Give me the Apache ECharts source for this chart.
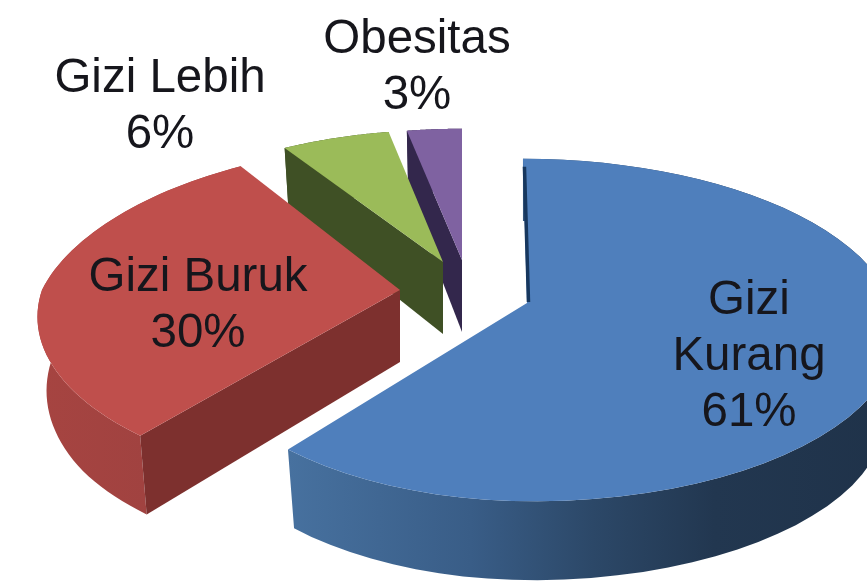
<!DOCTYPE html>
<html>
<head>
<meta charset="utf-8">
<style>
  html, body { margin: 0; padding: 0; background: #fff; }
  #chart { width: 867px; height: 581px; }
</style>
<script src="https://cdn.jsdelivr.net/npm/echarts@6/dist/echarts.min.js"></script>
</head>
<body>
<div id="chart"></div>
<script>
var categories = ['Gizi\nKurang', 'Gizi Buruk', 'Gizi Lebih', 'Obesitas'];
var percents = [61, 30, 6, 3];

// look of each slice, same order as categories
var slices = [
  { ax: 527, ay: 303, rx: 365, rxLeft: 335, ry: 167, shear: 0.028, backPinch: 0, lx: 749, ly: 357,
    top: '#4f7fbc', wall: null, lip: '#17375e',
    rim: [[0, '#47719f'], [0.3, '#395d87'], [0.5, '#2c4868'], [0.7, '#223750'], [1, '#1f3249']] },
  { ax: 400, ay: 290, rx: 358, rxLeft: 358, ry: 166, shear: 0, backPinch: 0.07, lx: 198, ly: 306,
    top: '#bf4f4c', wall: '#7d302e',
    rim: [[0, '#a64441'], [0.6, '#a04240'], [1, '#96403d']] },
  { ax: 443, ay: 262, rx: 335, rxLeft: 335, ry: 153, shear: 0, backPinch: 0, lx: 160, ly: 107,
    top: '#9bbb59', wall: '#3f5025', rim: [[0, '#3f5025'], [1, '#3f5025']] },
  { ax: 462, ay: 260, rx: 340, rxLeft: 340, ry: 152, shear: 0, backPinch: 0, lx: 417, ly: 68,
    top: '#7f62a1', wall: '#33274c', rim: [[0, '#33274c'], [1, '#33274c']] }
];

var tilt = 0.158;   // perspective of the pie plane
var depth = 72;     // thickness at the middle of the pie
var arcSteps = 60;
var textFont = '47.5px "Liberation Sans", Arial, sans-serif';

var total = percents.reduce(function (a, b) { return a + b; }, 0);

function startOf(i) {
  var sum = 0;
  for (var k = 0; k < i; k++) sum += percents[k];
  return sum / total * Math.PI * 2;
}

// theta clockwise from 12 o'clock, h = 0 on the top face, 1 on the bottom
function project(sl, theta, h) {
  var u = Math.sin(theta), v = -Math.cos(theta);
  var s = 1 / (1 - tilt * v);
  var rx = u < 0 ? sl.rxLeft : sl.rx;
  if (v < 0) rx *= 1 + sl.backPinch * v;
  var dx = rx * u * s * (1 - 0.025 * h);
  var dy = sl.ry * v * s;
  return [sl.ax + dx + sl.shear * dy, sl.ay + dy + h * depth * (1 + Math.min(s - 1, 0.095))];
}

function arc(sl, a0, a1, h) {
  var pts = [];
  for (var n = 0; n <= arcSteps; n++) {
    pts.push(project(sl, a0 + (a1 - a0) * n / arcSteps, h));
  }
  return pts;
}

function renderSlice(params, api) {
  var i = api.value(0);
  var sl = slices[i];
  var a0 = startOf(i);
  var a1 = a0 + api.value(1) / total * Math.PI * 2;
  var apex = [sl.ax, sl.ay];
  var apexLow = [sl.ax, sl.ay + depth];
  var topArc = arc(sl, a0, a1, 0);
  var children = [];

  // outer rim
  children.push({
    type: 'polygon',
    shape: { points: topArc.concat(arc(sl, a1, a0, 1)) },
    style: {
      fill: {
        type: 'linear', x: 0, y: 0, x2: 1, y2: 0,
        colorStops: sl.rim.map(function (c) { return { offset: c[0], color: c[1] }; })
      }
    }
  });

  // cut face on the start edge, the blue one faces away
  if (sl.wall) {
    children.push({
      type: 'polygon',
      shape: { points: [apex, project(sl, a0, 0), project(sl, a0, 1), apexLow] },
      style: { fill: sl.wall }
    });
  }

  children.push({
    type: 'polygon',
    shape: { points: [apex].concat(topArc) },
    style: { fill: sl.top }
  });

  // thin dark strip along the blue slice's upright edge
  if (sl.lip) {
    children.push({
      type: 'line',
      shape: { x1: topArc[0][0] + 1.5, y1: topArc[0][1] + 8, x2: apex[0] + 1.5, y2: apex[1] - 1 },
      style: { stroke: sl.lip, lineWidth: 3.5 }
    });
  }

  children.push({
    type: 'text',
    style: {
      text: categories[i] + '\n' + percents[i] + '%',
      x: sl.lx, y: sl.ly,
      align: 'center', verticalAlign: 'middle',
      font: textFont, lineHeight: 56,
      fill: '#16161c'
    }
  });

  return { type: 'group', children: children };
}

// back slices first so the front ones cover them
var drawOrder = [3, 2, 1, 0];

var myChart = echarts.init(document.getElementById('chart'), null, { renderer: 'canvas' });
myChart.setOption({
  backgroundColor: '#fff',
  animation: false,
  series: [{
    type: 'custom',
    coordinateSystem: 'none',
    renderItem: renderSlice,
    clip: false,
    data: drawOrder.map(function (i) { return [i, percents[i]]; })
  }]
});
</script>
</body>
</html>
